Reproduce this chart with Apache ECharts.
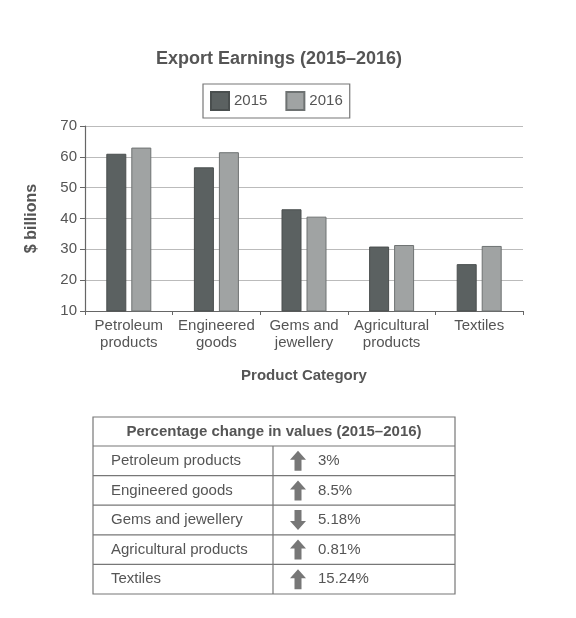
<!DOCTYPE html>
<html>
<head>
<meta charset="utf-8">
<title>Export Earnings (2015–2016)</title>
<script src="https://cdn.jsdelivr.net/npm/echarts@6/dist/echarts.min.js"></script>
<style>
  html, body { margin: 0; padding: 0; background: #fff; }
  #chart { width: 576px; height: 618px; }
</style>
</head>
<body>
<div id="chart"></div>
<script>
// bar chart data
var categories = ['Petroleum\nproducts', 'Engineered\ngoods', 'Gems and\njewellery', 'Agricultural\nproducts', 'Textiles'];
var earnings2015 = [61, 56.6, 43, 30.9, 25.2];
var earnings2016 = [63, 61.5, 40.6, 31.4, 31.1];
var yTicks = [10, 20, 30, 40, 50, 60, 70];

// table data
var tableLabels = ['Petroleum products', 'Engineered goods', 'Gems and jewellery', 'Agricultural products', 'Textiles'];
var pctChange = ['3%', '8.5%', '5.18%', '0.81%', '15.24%'];
var pctDirection = ['up', 'up', 'down', 'up', 'up'];

var FONT = '"Liberation Sans", Arial, Helvetica, sans-serif';
var TXT = '#555';

// table drawn with graphic elements
function buildTable() {
  var x0 = 93, x1 = 455, xMid = 273;
  var top = 417, headH = 29, rowH = 29.6;
  var els = [];
  var bottom = top + headH + rowH * tableLabels.length;
  els.push({
    type: 'rect',
    shape: { x: x0, y: top, width: x1 - x0, height: bottom - top },
    style: { fill: '#fff', stroke: '#777', lineWidth: 1.2 }
  });
  els.push({
    type: 'text',
    x: (x0 + x1) / 2, y: top + headH / 2,
    style: { text: 'Percentage change in values (2015–2016)', fill: TXT, font: 'bold 15px ' + FONT, align: 'center', verticalAlign: 'middle' }
  });
  els.push({
    type: 'line',
    shape: { x1: xMid, y1: top + headH, x2: xMid, y2: bottom },
    style: { stroke: '#777', lineWidth: 1.2 }
  });
  for (var i = 0; i < tableLabels.length; i++) {
    var y = top + headH + rowH * i;
    els.push({
      type: 'line',
      shape: { x1: x0, y1: y, x2: x1, y2: y },
      style: { stroke: '#777', lineWidth: 1.2 }
    });
    var cy = y + rowH / 2;
    els.push({
      type: 'text', x: 111, y: cy,
      style: { text: tableLabels[i], fill: TXT, font: '15px ' + FONT, verticalAlign: 'middle' }
    });
    var ax = 298, s = pctDirection[i] === 'up' ? -1 : 1;
    els.push({
      type: 'polygon',
      shape: { points: [
        [ax, cy + s * 10], [ax - 8, cy + s * 1], [ax - 3.5, cy + s * 1], [ax - 3.5, cy - s * 10],
        [ax + 3.5, cy - s * 10], [ax + 3.5, cy + s * 1], [ax + 8, cy + s * 1]
      ] },
      style: { fill: '#777' }
    });
    els.push({
      type: 'text', x: 318, y: cy,
      style: { text: pctChange[i], fill: TXT, font: '15px ' + FONT, verticalAlign: 'middle' }
    });
  }
  return els;
}

var chart = echarts.init(document.getElementById('chart'));
chart.setOption({
  backgroundColor: '#fff',
  animation: false,
  textStyle: { fontFamily: FONT },
  title: {
    text: 'Export Earnings (2015–2016)',
    left: 151, top: 45,
    textStyle: { fontSize: 18, fontWeight: 'bold', color: TXT, fontFamily: FONT }
  },
  legend: {
    data: ['2015', '2016'],
    left: 203, top: 84,
    padding: [7, 7],
    itemGap: 18,
    itemWidth: 18, itemHeight: 18,
    borderColor: '#777', borderWidth: 1.2,
    icon: 'rect',
    textStyle: { fontSize: 15, color: TXT, fontFamily: FONT }
  },
  grid: { left: 85, right: 53, top: 126, bottom: 307 },
  xAxis: {
    type: 'category',
    data: categories,
    name: 'Product Category',
    nameLocation: 'middle',
    nameGap: 57,
    nameTextStyle: { fontSize: 15, fontWeight: 'bold', color: TXT },
    axisLine: { lineStyle: { color: '#666', width: 1.2 } },
    axisTick: { show: true, length: 4, inside: false, lineStyle: { color: '#666' } },
    axisLabel: { fontSize: 15, color: TXT, lineHeight: 17, margin: 6, interval: 0 }
  },
  yAxis: {
    type: 'value',
    min: yTicks[0], max: yTicks[yTicks.length - 1], interval: 10,
    name: '$ billions',
    nameLocation: 'middle',
    nameGap: 45,
    nameRotate: 90,
    nameTextStyle: { fontSize: 16, fontWeight: 'bold', color: TXT },
    axisLine: { show: true, lineStyle: { color: '#666', width: 1.2 } },
    axisTick: { show: true, length: 5, lineStyle: { color: '#666' } },
    axisLabel: { fontSize: 15, color: TXT, margin: 8 },
    splitLine: { lineStyle: { color: '#bbb', width: 1.2 } }
  },
  series: [
    {
      name: '2015', type: 'bar', data: earnings2015,
      barWidth: 20, barGap: '25%',
      itemStyle: { color: '#5b6161', borderColor: '#4a4f4f', borderWidth: 1 }
    },
    {
      name: '2016', type: 'bar', data: earnings2016,
      barWidth: 20,
      itemStyle: { color: '#a0a3a3', borderColor: '#6e7272', borderWidth: 1 }
    }
  ],
  graphic: buildTable()
});
</script>
</body>
</html>
